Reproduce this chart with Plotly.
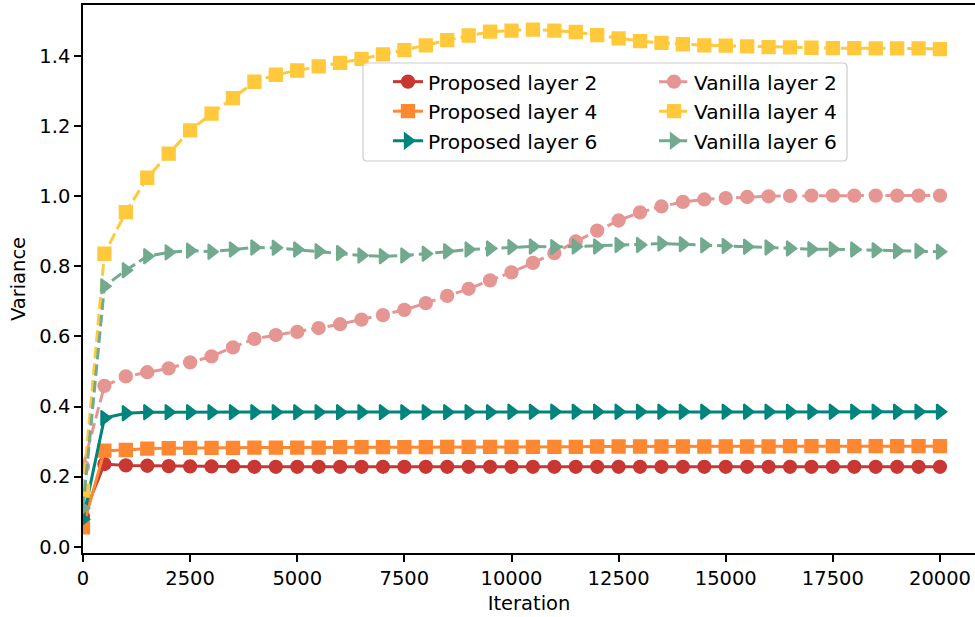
import plotly.graph_objects as go

iterations = [0, 500, 1000, 1500, 2000, 2500, 3000, 3500, 4000, 4500,
              5000, 5500, 6000, 6500, 7000, 7500, 8000, 8500, 9000, 9500,
              10000, 10500, 11000, 11500, 12000, 12500, 13000, 13500, 14000, 14500,
              15000, 15500, 16000, 16500, 17000, 17500, 18000, 18500, 19000, 19500,
              20000]

proposed_l2 = [0.085, 0.236, 0.232, 0.231, 0.230, 0.229, 0.229, 0.229, 0.228, 0.228,
               0.228, 0.228, 0.228, 0.228, 0.228, 0.228, 0.228, 0.228, 0.228, 0.228,
               0.228, 0.228, 0.228, 0.228, 0.228, 0.228, 0.228, 0.228, 0.228, 0.228,
               0.228, 0.228, 0.228, 0.228, 0.228, 0.228, 0.228, 0.228, 0.228, 0.228,
               0.228]
proposed_l4 = [0.055, 0.274, 0.276, 0.280, 0.281, 0.282, 0.282, 0.282, 0.283, 0.283,
               0.283, 0.283, 0.284, 0.284, 0.284, 0.284, 0.284, 0.285, 0.285, 0.285,
               0.285, 0.285, 0.285, 0.285, 0.286, 0.286, 0.286, 0.286, 0.286, 0.286,
               0.286, 0.286, 0.286, 0.287, 0.287, 0.287, 0.287, 0.287, 0.287, 0.287,
               0.287]
proposed_l6 = [0.078, 0.367, 0.381, 0.384, 0.384, 0.384, 0.384, 0.384, 0.384, 0.384,
               0.384, 0.384, 0.384, 0.384, 0.384, 0.384, 0.384, 0.384, 0.384, 0.384,
               0.385, 0.385, 0.385, 0.385, 0.385, 0.385, 0.385, 0.385, 0.385, 0.385,
               0.385, 0.385, 0.385, 0.385, 0.385, 0.385, 0.385, 0.385, 0.385, 0.385,
               0.385]
vanilla_l2 = [0.229, 0.459, 0.486, 0.498, 0.509, 0.526, 0.543, 0.569, 0.593, 0.604,
              0.613, 0.624, 0.635, 0.648, 0.661, 0.676, 0.695, 0.716, 0.736, 0.760,
              0.783, 0.810, 0.838, 0.871, 0.902, 0.931, 0.954, 0.971, 0.984, 0.991,
              0.995, 0.998, 1.000, 1.001, 1.002, 1.002, 1.002, 1.002, 1.002, 1.002,
              1.002]
vanilla_l4 = [0.160, 0.836, 0.955, 1.053, 1.122, 1.188, 1.236, 1.280, 1.327, 1.347,
              1.359, 1.371, 1.381, 1.392, 1.405, 1.417, 1.431, 1.446, 1.459, 1.470,
              1.473, 1.476, 1.473, 1.469, 1.460, 1.451, 1.443, 1.438, 1.434, 1.431,
              1.430, 1.428, 1.426, 1.425, 1.424, 1.423, 1.423, 1.422, 1.422, 1.422,
              1.420]
vanilla_l6 = [0.110, 0.743, 0.789, 0.829, 0.840, 0.845, 0.842, 0.848, 0.854, 0.853,
              0.848, 0.843, 0.838, 0.831, 0.829, 0.831, 0.836, 0.843, 0.848, 0.851,
              0.855, 0.857, 0.855, 0.857, 0.857, 0.861, 0.861, 0.865, 0.863, 0.860,
              0.858, 0.856, 0.854, 0.851, 0.849, 0.849, 0.848, 0.846, 0.844, 0.844,
              0.842]

x_ticks = [0, 2500, 5000, 7500, 10000, 12500, 15000, 17500, 20000]
y_ticks = [0.0, 0.2, 0.4, 0.6, 0.8, 1.0, 1.2, 1.4]

FONT = "DejaVu Sans"
FS = 19.5
LFS = 20.2

series = [
    ("Proposed layer 2", proposed_l2, "#C83732", "circle", 12.5, "solid", "legend"),
    ("Proposed layer 4", proposed_l4, "#FE8731", "square", 12.5, "solid", "legend"),
    ("Proposed layer 6", proposed_l6, "#00857D", "triangle-right", 13, "solid", "legend"),
    ("Vanilla layer 2", vanilla_l2, "#E59693", "circle", 12.5, "11.6px,5px", "legend2"),
    ("Vanilla layer 4", vanilla_l4, "#FFC93B", "square", 12.5, "11.6px,5px", "legend2"),
    ("Vanilla layer 6", vanilla_l6, "#72AA8F", "triangle-right", 13, "11.6px,5px", "legend2"),
]

fig = go.Figure()
for i, (name, vals, col, sym, msz, dash, leg) in enumerate(series):
    fig.add_trace(go.Scatter(
        x=iterations, y=vals, name=name, mode="lines+markers",
        line=dict(color=col, width=3, dash=dash),
        marker=dict(symbol=sym, size=msz, color=col, line=dict(color=col, width=1.8)),
        legend=leg, legendgroup="g%d" % i,
    ))

# legend frame (matplotlib-style rounded box)
x0, x1 = (363 - 83) / 892, (847 - 83) / 892
y0, y1 = (553 - 161) / 548, (553 - 63) / 548
rx, ry = 4 / 892, 4 / 548
path = (f"M{x0+rx},{y1} L{x1-rx},{y1} Q{x1},{y1} {x1},{y1-ry} L{x1},{y0+ry} "
        f"Q{x1},{y0} {x1-rx},{y0} L{x0+rx},{y0} Q{x0},{y0} {x0},{y0+ry} "
        f"L{x0},{y1-ry} Q{x0},{y1} {x0+rx},{y1} Z")
fig.add_shape(type="path", path=path, xref="paper", yref="paper",
              fillcolor="rgba(255,255,255,0.8)", line=dict(color="#cccccc", width=1.2),
              layer="above")

legend_common = dict(
    xanchor="left", yanchor="top", bgcolor="rgba(0,0,0,0)", borderwidth=0,
    font=dict(family=FONT, size=LFS, color="black"), tracegroupgap=0.3,
    orientation="v",
)

fig.update_layout(
    width=975, height=617,
    margin=dict(l=83, r=0, t=5, b=64),
    paper_bgcolor="white", plot_bgcolor="white",
    font=dict(family=FONT, size=FS, color="black"),
    showlegend=True,
    legend=dict(x=(388 - 83) / 892, y=(553 - 62) / 548, **legend_common),
    legend2=dict(x=(654 - 83) / 892, y=(553 - 62) / 548, **legend_common),
    xaxis=dict(
        range=[0, 20817], tickvals=x_ticks, ticktext=[str(v) for v in x_ticks],
        showgrid=False, zeroline=False, showline=True, linecolor="black", linewidth=1.6,
        mirror=True, ticks="outside", ticklen=7, tickwidth=1.6, tickcolor="black",
        tickfont=dict(family=FONT, size=FS, color="black"),
        title=dict(text="Iteration", standoff=7, font=dict(family=FONT, size=FS, color="black")),
    ),
    yaxis=dict(
        range=[-0.018, 1.546], tickvals=y_ticks, ticktext=["%.1f" % v for v in y_ticks],
        showgrid=False, zeroline=False, showline=True, linecolor="black", linewidth=1.6,
        mirror=False, ticks="outside", ticklen=7, tickwidth=1.6, tickcolor="black",
        tickfont=dict(family=FONT, size=FS, color="black"),
        title=dict(text="Variance", standoff=8, font=dict(family=FONT, size=FS, color="black")),
    ),
)

fig.write_html("out.html")
